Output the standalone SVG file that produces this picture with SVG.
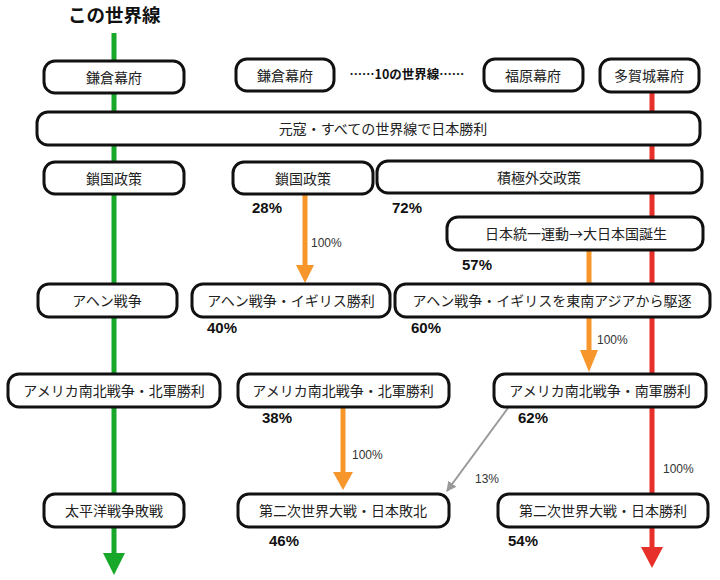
<svg xmlns="http://www.w3.org/2000/svg" width="720" height="580" viewBox="0 0 720 580">
<defs>
<style>
.box rect{fill:#fff;stroke:#111;stroke-width:3}
.box text{font-family:"Noto Sans CJK JP",sans-serif;font-size:14px;fill:#222;text-anchor:middle;dominant-baseline:central}
.pct{font-family:"Liberation Sans","Noto Sans CJK JP",sans-serif;font-size:15px;font-weight:bold;fill:#111}
.lbl{font-family:"Liberation Sans","Noto Sans CJK JP",sans-serif;font-size:12px;fill:#333;dominant-baseline:central}
.title{font-family:"Noto Sans CJK JP",sans-serif;font-weight:bold;fill:#111}
</style>
<marker id="ga" viewBox="0 0 10 10" refX="9" refY="5" markerWidth="5" markerHeight="5" orient="auto"><path d="M0,0 L10,5 L0,10 z" fill="#999"/></marker>
</defs>
<rect width="720" height="580" fill="#fff"/>
<text class="title" x="68" y="22" font-size="18.5">この世界線</text>
<text class="title" x="407" y="73" font-size="12.5" text-anchor="middle" dominant-baseline="central">……10の世界線……</text>

<g id="connectors">
<line x1="114" y1="33" x2="114" y2="555" stroke="#17a82a" stroke-width="5"/>
<polygon points="103,553 125,553 114,575" fill="#17a82a"/>
<line x1="652" y1="92" x2="652" y2="549" stroke="#e8302a" stroke-width="5"/>
<polygon points="641,547 663,547 652,568" fill="#e8302a"/>
<line x1="305" y1="194" x2="305" y2="267" stroke="#f7962b" stroke-width="5"/>
<polygon points="296,265 314,265 305,283" fill="#f7962b"/>
<line x1="589" y1="250" x2="589" y2="352" stroke="#f7962b" stroke-width="5"/>
<polygon points="580,350 598,350 589,372" fill="#f7962b"/>
<line x1="343" y1="407" x2="343" y2="474" stroke="#f7962b" stroke-width="5"/>
<polygon points="333,472 353,472 343,490" fill="#f7962b"/>
<line x1="508" y1="408" x2="447" y2="491" stroke="#999" stroke-width="2" marker-end="url(#ga)"/>
<text class="lbl" x="311" y="243">100%</text>
<text class="lbl" x="597" y="340">100%</text>
<text class="lbl" x="352" y="455">100%</text>
<text class="lbl" x="475" y="479">13%</text>
<text class="lbl" x="663" y="469">100%</text>
</g>

<g id="n1" class="box"><rect x="44" y="61" width="140" height="32" rx="11"/><text x="114" y="77">鎌倉幕府</text></g>
<g id="n2" class="box"><rect x="236" y="59" width="98" height="32" rx="11"/><text x="285" y="75">鎌倉幕府</text></g>
<g id="n3" class="box"><rect x="484" y="59" width="99" height="32" rx="11"/><text x="533" y="75">福原幕府</text></g>
<g id="n4" class="box"><rect x="600" y="59" width="99" height="33" rx="11"/><text x="649" y="75">多賀城幕府</text></g>
<g id="n5" class="box"><rect x="37" y="112" width="663" height="33" rx="11"/><text x="383" y="128">元寇・すべての世界線で日本勝利</text></g>
<g id="n6" class="box"><rect x="44" y="162" width="140" height="32" rx="11"/><text x="114" y="178">鎖国政策</text></g>
<g id="n7" class="box"><rect x="233" y="162" width="140" height="32" rx="11"/><text x="303" y="178">鎖国政策</text></g>
<g id="n8" class="box"><rect x="377" y="161" width="325" height="32" rx="11"/><text x="539" y="177">積極外交政策</text></g>
<g id="n9" class="box"><rect x="447" y="217" width="256" height="33" rx="11"/><text x="576" y="233">日本統一運動→大日本国誕生</text></g>
<g id="n10" class="box"><rect x="38" y="284" width="139" height="33" rx="11"/><text x="107" y="300">アヘン戦争</text></g>
<g id="n11" class="box"><rect x="192" y="284" width="198" height="33" rx="11"/><text x="291" y="300">アヘン戦争・イギリス勝利</text></g>
<g id="n12" class="box"><rect x="395" y="284" width="315" height="33" rx="11"/><text x="552" y="300">アヘン戦争・イギリスを東南アジアから駆逐</text></g>
<g id="n13" class="box"><rect x="8" y="374" width="212" height="33" rx="11"/><text x="114" y="390">アメリカ南北戦争・北軍勝利</text></g>
<g id="n14" class="box"><rect x="238" y="374" width="211" height="33" rx="11"/><text x="343" y="390">アメリカ南北戦争・北軍勝利</text></g>
<g id="n15" class="box"><rect x="494" y="374" width="212" height="33" rx="11"/><text x="600" y="390">アメリカ南北戦争・南軍勝利</text></g>
<g id="n16" class="box"><rect x="44" y="494" width="140" height="33" rx="11"/><text x="114" y="510">太平洋戦争敗戦</text></g>
<g id="n17" class="box"><rect x="238" y="494" width="211" height="33" rx="11"/><text x="343" y="510">第二次世界大戦・日本敗北</text></g>
<g id="n18" class="box"><rect x="498" y="494" width="210" height="33" rx="11"/><text x="603" y="510">第二次世界大戦・日本勝利</text></g>

<g id="percents">
<text class="pct" x="252" y="213">28%</text>
<text class="pct" x="392" y="213">72%</text>
<text class="pct" x="462" y="270">57%</text>
<text class="pct" x="207" y="333">40%</text>
<text class="pct" x="411" y="333">60%</text>
<text class="pct" x="262" y="423">38%</text>
<text class="pct" x="518" y="423">62%</text>
<text class="pct" x="269" y="546">46%</text>
<text class="pct" x="508" y="546">54%</text>
</g>
</svg>
